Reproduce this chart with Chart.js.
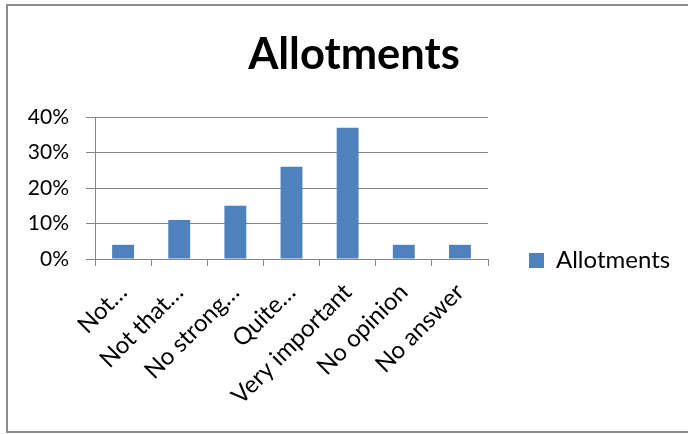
<!DOCTYPE html>
<html>
<head>
<meta charset="utf-8">
<script src="https://cdn.jsdelivr.net/npm/chart.js@4/dist/chart.umd.min.js"></script>
<style>
  html, body { margin: 0; padding: 0; width: 688px; height: 434px; background: #fff; overflow: hidden; }
  .edge { position: absolute; background: #8c8c8c; }
  #edgeTop { left: 6px; top: 4px; width: 682px; height: 2px; }
  #edgeLeft { left: 6px; top: 4px; width: 2px; height: 429px; }
  #edgeBottom { left: 6px; top: 431px; width: 682px; height: 2px; }
  #chart { position: absolute; left: 0; top: 0; }
</style>
</head>
<body>
<div class="edge" id="edgeTop"></div>
<div class="edge" id="edgeLeft"></div>
<div class="edge" id="edgeBottom"></div>
<canvas id="chart" width="688" height="434"></canvas>
<script>
// Chart data
const chartTitle = 'Allotments';
const seriesName = 'Allotments';
const categories = ['Not…', 'Not that…', 'No strong…', 'Quite…', 'Very important', 'No opinion', 'No answer'];
const seriesValues = [4, 11, 15, 26, 37, 4, 4];
const yTickValues = [0, 10, 20, 30, 40];

const gray = '#868686';
const font = 'Lato, "Open Sans", sans-serif';

// Legend width тогтмол
const legendWidth = {
    id: 'legendWidth',
    beforeInit(chart) {
        const fit = chart.legend.fit;
        chart.legend.fit = function () {
            fit.call(this);
            this.width = 200;
        };
    }
};

new Chart(document.getElementById('chart'), {
    type: 'bar',
    data: {
        labels: categories,
        datasets: [{
            label: seriesName,
            data: seriesValues,
            backgroundColor: '#4f81bd',
            barPercentage: 0.39,
            categoryPercentage: 1
        }]
    },
    options: {
        responsive: false,
        animation: false,
        devicePixelRatio: 1,
        layout: { padding: { left: 20, right: 0, top: 0, bottom: 0 } },
        plugins: {
            title: {
                display: true,
                text: chartTitle,
                color: '#000',
                font: { family: font, size: 43.5, weight: 'bold', lineHeight: 1.2 },
                padding: { top: 29, bottom: 35.8 }
            },
            legend: {
                position: 'right',
                title: { display: true, text: '', font: { size: 10, lineHeight: 1 }, padding: { top: 77, bottom: 0 } },
                labels: {
                    color: '#000',
                    font: { family: font, size: 24 },
                    boxWidth: 15,
                    boxHeight: 15,
                    padding: 41
                }
            },
            tooltip: { enabled: false }
        },
        scales: {
            x: {
                grid: { drawOnChartArea: false, color: gray, tickLength: 7 },
                border: { color: gray },
                ticks: {
                    color: '#000',
                    font: { family: font, size: 24 },
                    minRotation: 45,
                    maxRotation: 45,
                    autoSkip: false,
                    padding: 12
                },
                afterFit(scale) { scale.height = 434 - 259; }
            },
            y: {
                min: 0,
                max: 40,
                afterBuildTicks(scale) { scale.ticks = yTickValues.map(v => ({ value: v })); },
                grid: { color: gray, tickLength: 9 },
                border: { color: gray },
                ticks: {
                    color: '#000',
                    font: { family: font, size: 21 },
                    padding: 17,
                    callback: v => v + '%'
                },
                afterFit(scale) { scale.width = 75; }
            }
        }
    },
    plugins: [legendWidth]
});
</script>
</body>
</html>
